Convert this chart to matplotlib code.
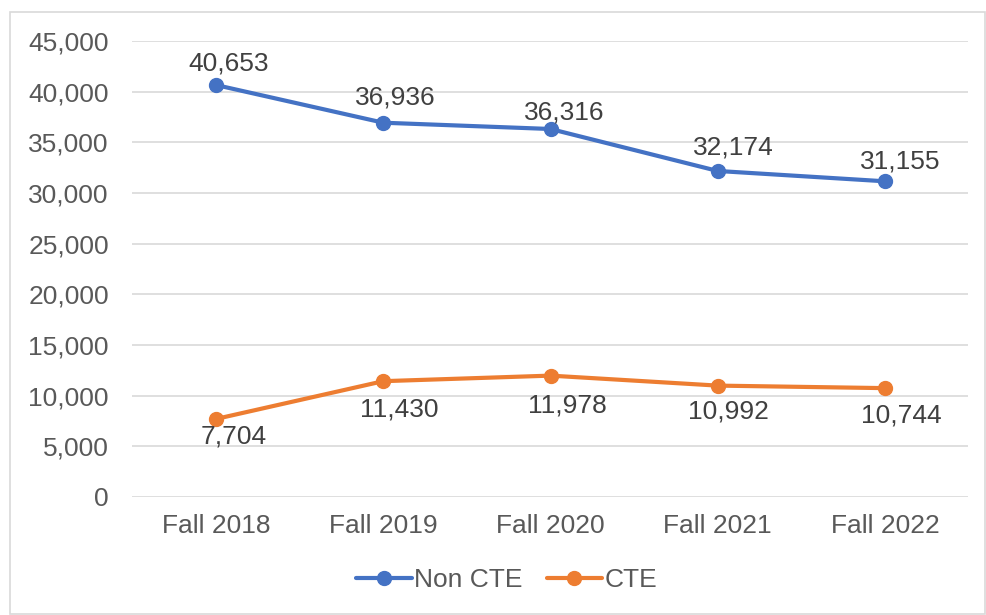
import matplotlib
matplotlib.use("Agg")
import matplotlib.pyplot as plt
from matplotlib.patches import Rectangle
from matplotlib.ticker import FuncFormatter

categories = ["Fall 2018", "Fall 2019", "Fall 2020", "Fall 2021", "Fall 2022"]
non_cte = [40653, 36936, 36316, 32174, 31155]
cte = [7704, 11430, 11978, 10992, 10744]

# label placement offsets (pixels), as positioned in the reference
non_cte_dx = [13, 12, 14, 16, 15]
non_cte_dy = [22, 25, 16, 23, 20]
cte_dx = [18, 16, 17, 11, 16]
cte_dy = [-18, -28, -30, -26, -27]

plt.rcParams['font.family'] = ['Liberation Sans', 'DejaVu Sans']
text_color = "#595959"
label_color = "#404040"
blue = "#4472C4"
orange = "#ED7D31"
fs = 19
px2pt = 0.72

fig = plt.figure(figsize=(9.87, 6.15), dpi=100)
fig.patches.append(Rectangle((10/987, 1/615), 975/987, 1 - 13/615, transform=fig.transFigure,
                             fill=False, edgecolor="#d9d9d9", linewidth=1.2))
ax = fig.add_axes([132.5/987, 1 - 497/615, 836/987, 456/615])

x = list(range(len(categories)))
ax.plot(x, non_cte, color=blue, lw=3.0, marker='o', ms=10, label="Non CTE", solid_capstyle='round', zorder=3)
ax.plot(x, cte, color=orange, lw=3.0, marker='o', ms=10, label="CTE", solid_capstyle='round', zorder=3)

for xi, v, dx, dy in zip(x, non_cte, non_cte_dx, non_cte_dy):
    ax.annotate(f"{v:,}", (xi, v), xytext=(dx * px2pt, dy * px2pt), textcoords='offset points',
                ha='center', va='center', fontsize=fs, color=label_color, zorder=4)
for xi, v, dx, dy in zip(x, cte, cte_dx, cte_dy):
    ax.annotate(f"{v:,}", (xi, v), xytext=(dx * px2pt, dy * px2pt), textcoords='offset points',
                ha='center', va='center', fontsize=fs, color=label_color, zorder=4)

ax.set_xlim(-0.5, len(categories) - 0.5)
ax.set_ylim(0, 45000)
ax.set_yticks(range(0, 45001, 5000))
ax.yaxis.set_major_formatter(FuncFormatter(lambda v, p: f"{int(v):,}"))
ax.set_xticks(x)
ax.set_xticklabels(categories)
ax.grid(axis='y', color="#d9d9d9", lw=1.2)
ax.set_axisbelow(True)
for s in ax.spines.values():
    s.set_visible(False)
ax.tick_params(axis='both', length=0, labelsize=fs, colors=text_color)
ax.tick_params(axis='y', pad=17)
ax.tick_params(axis='x', pad=12)

leg = fig.legend(loc='center', bbox_to_anchor=(507/987, 1 - 580/615), ncol=2, frameon=False,
                 fontsize=fs, handlelength=2.1, handletextpad=0.1, columnspacing=0.9)
for t in leg.get_texts():
    t.set_color(text_color)

fig.savefig("out.png", dpi=100)
